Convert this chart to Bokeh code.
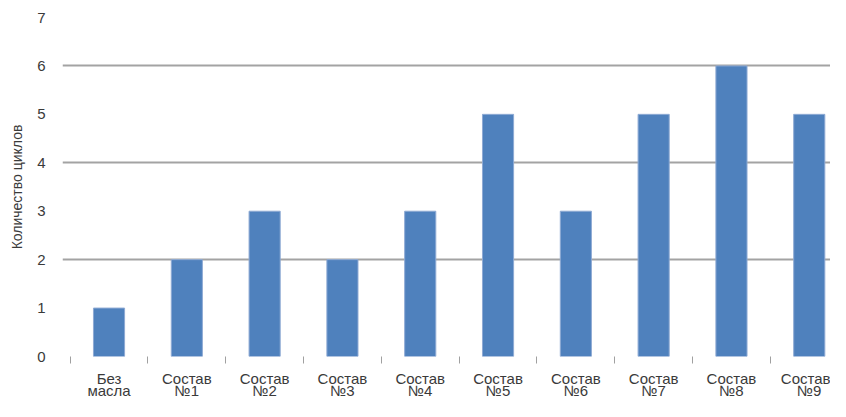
from bokeh.plotting import figure
from bokeh.models import Range1d, FixedTicker, LinearAxis
from bokeh.embed import file_html
from bokeh.resources import INLINE

# Data
label_line1 = ["Без", "Состав", "Состав", "Состав", "Состав", "Состав", "Состав", "Состав", "Состав", "Состав"]
label_line2 = ["масла", "№1", "№2", "№3", "№4", "№5", "№6", "№7", "№8", "№9"]
cycles = [1, 2, 3, 2, 3, 5, 3, 5, 6, 5]
y_ticks = [0, 1, 2, 3, 4, 5, 6, 7]
grid_values = [2, 4, 6]
y_title = "Количество циклов"

positions = list(range(len(cycles)))
FONT = "Liberation Sans"
TEXT_COLOR = "#3a3a3a"

p = figure(width=830, height=401, output_backend="svg", toolbar_location=None,
           x_range=Range1d(-0.598, 9.273), y_range=Range1d(0, 7),
           x_axis_location=None,
           min_border_left=62, min_border_right=0, min_border_top=17, min_border_bottom=30)
p.outline_line_color = None
p.background_fill_color = "white"
p.border_fill_color = "white"

p.vbar(x=positions, top=cycles, width=0.40, fill_color="#4F81BD",
       line_color="#8EAAD4", line_width=1)

# Y axis
ya = p.yaxis[0]
ya.ticker = FixedTicker(ticks=y_ticks)
ya.major_tick_line_color = None
ya.minor_tick_line_color = None
ya.axis_line_color = None
ya.major_label_standoff = 11
ya.major_label_text_font = FONT
ya.major_label_text_font_size = "15px"
ya.major_label_text_color = TEXT_COLOR
ya.axis_label = y_title
ya.axis_label_standoff = 9
ya.axis_label_text_font = FONT
ya.axis_label_text_font_size = "14px"
ya.axis_label_text_font_style = "normal"
ya.axis_label_text_color = TEXT_COLOR

# Grid
p.xgrid.grid_line_color = None
p.ygrid.ticker = FixedTicker(ticks=grid_values)
p.ygrid.grid_line_color = "#a3a3a3"
p.ygrid.grid_line_width = 2

# X axis, first line of labels with separator ticks
minor = [i + 0.5 for i in range(-1, len(cycles))]
xa1 = LinearAxis(ticker=FixedTicker(ticks=positions, minor_ticks=minor),
                 major_label_overrides={i: t for i, t in zip(positions, label_line1)})
xa1.axis_line_color = None
xa1.major_tick_line_color = None
xa1.major_tick_out = 0
xa1.major_tick_in = 0
xa1.minor_tick_line_color = "#a0a0a0"
xa1.minor_tick_out = 7
xa1.minor_tick_in = 0
xa1.major_label_standoff = 6
xa1.major_label_text_font = FONT
xa1.major_label_text_font_size = "15px"
xa1.major_label_text_color = TEXT_COLOR
p.add_layout(xa1, "below")

# X axis, second line of labels
xa2 = LinearAxis(ticker=FixedTicker(ticks=positions, minor_ticks=[]),
                 major_label_overrides={i: t for i, t in zip(positions, label_line2)})
xa2.axis_line_color = None
xa2.major_tick_line_color = None
xa2.minor_tick_line_color = None
xa2.major_tick_out = 0
xa2.major_tick_in = 0
xa2.minor_tick_out = 0
xa2.minor_tick_in = 0
xa2.major_label_standoff = -8
xa2.major_label_text_font = FONT
xa2.major_label_text_font_size = "15px"
xa2.major_label_text_color = TEXT_COLOR
p.add_layout(xa2, "below")

open("out.html", "w").write(file_html(p, INLINE))
